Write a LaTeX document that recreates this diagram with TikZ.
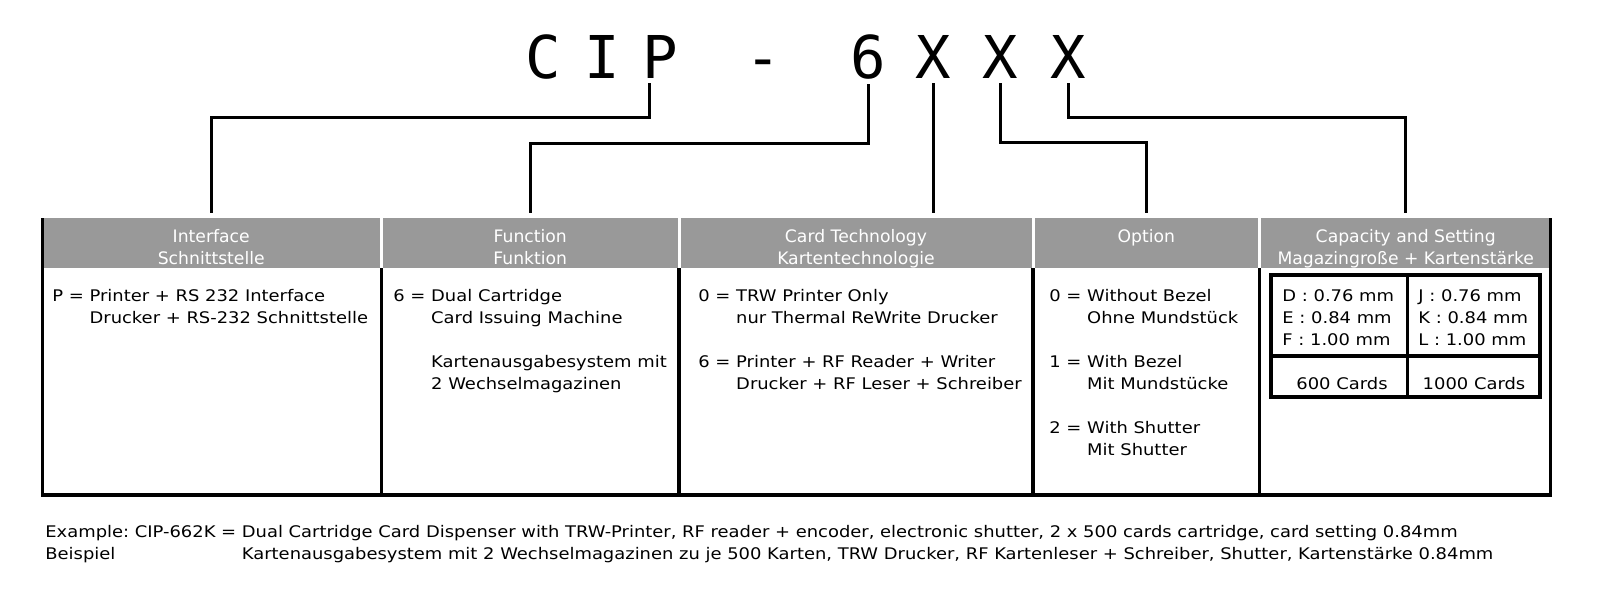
\documentclass[tikz,border=0pt]{standalone}
\usepackage{fontspec}
\setmainfont{DejaVu Sans}
\newfontfamily\bodyfont{DejaVu Sans}[FakeStretch=1.12]
\newfontfamily\titlefont{DejaVu Sans Mono}
\usetikzlibrary{calc}
\definecolor{headgray}{RGB}{153,153,153}
\frenchspacing

\begin{document}
\begin{tikzpicture}[x=0.5pt,y=-0.5pt,
        titlechar/.style={font={\titlefont\fontsize{29.5pt}{30pt}\selectfont}, inner sep=0pt, anchor=base},
        headcell/.style={fill=headgray, inner sep=0pt, minimum height=25pt},
        headtext/.style={font={\fontsize{8.6pt}{11pt}\selectfont}, text=white, inner sep=0pt, anchor=base},
        bodytext/.style={font={\bodyfont\fontsize{8pt}{11pt}\selectfont}, inner sep=0pt, anchor=base west},
        link/.style={line width=1.5pt, shorten <=2.5pt, shorten >=2.5pt},
        tableline/.style={line width=1.8pt},
        divline/.style={line width=1.6pt}]
        \useasboundingbox (0,0) rectangle (1600,600);

        \node[titlechar] (tC) at (543,78) {C};
        \node[titlechar] (tI) at (602,78) {I};
        \node[titlechar] (tP) at (660,78) {P};
        \node[titlechar] (tDash) at (763,78) {-};
        \node[titlechar] (t6) at (868,78) {6};
        \node[titlechar] (tX1) at (933,78) {X};
        \node[titlechar] (tX2) at (1000,78) {X};
        \node[titlechar] (tX3) at (1068,78) {X};

        \node[headcell, minimum width=168.75pt] (hIface) at (211.25,243) {};
        \node[headcell, minimum width=147.25pt] (hFunc) at (530.25,243) {};
        \node[headcell, minimum width=175.5pt] (hCard) at (856,243) {};
        \node[headcell, minimum width=111.75pt] (hOpt) at (1146.25,243) {};
        \node[headcell, minimum width=144.75pt] (hCap) at (1405.75,243) {};

        \node[headtext] (hIfaceA) at (211.25,242) {Interface};
        \node[headtext] (hIfaceB) at (211.25,264) {Schnittstelle};
        \node[headtext] (hFuncA) at (530.25,242) {Function};
        \node[headtext] (hFuncB) at (530.25,264) {Funktion};
        \node[headtext] (hCardA) at (856,242) {Card Technology};
        \node[headtext] (hCardB) at (856,264) {Kartentechnologie};
        \node[headtext] (hOptA) at (1146.25,242) {Option};
        \node[headtext] (hCapA) at (1405.75,242) {Capacity and Setting};
        \node[headtext] (hCapB) at (1405.75,264) {Magazingroße + Kartenstärke};

        \draw[tableline] (42.5,218) -- (42.5,495) -- (1550.5,495) -- (1550.5,218);
        \draw[divline] (381.5,268) -- (381.5,495);
        \draw[divline] (679,268) -- (679,495);
        \draw[divline] (1033,268) -- (1033,495);
        \draw[divline] (1259.5,268) -- (1259.5,495);

        \draw[link] ([xshift=4pt]tP.south west) -- ++(0,39) -| (hIface.north);
        \draw[link] (t6.south) -- ++(0,64) -| (hFunc.north);
        \draw[link] (tX1.south) -- (tX1.south |- hCard.north);
        \draw[link] (tX2.south) -- ++(0,64) -| (hOpt.north);
        \draw[link] (tX3.south) -- ++(0,39) -| (hCap.north);

        \node[bodytext] (bIface) at (52,301) {\begin{tabular}[t]{@{}l@{\ }l@{}}
                P = & Printer + RS 232 Interface\\
                    & Drucker + RS-232 Schnittstelle
            \end{tabular}};
        \node[bodytext] (bFunc) at (393,301) {\begin{tabular}[t]{@{}l@{\ }l@{}}
                6 = & Dual Cartridge\\
                    & Card Issuing Machine\\
                    & \\
                    & Kartenausgabesystem mit\\
                    & 2 Wechselmagazinen
            \end{tabular}};
        \node[bodytext] (bCard) at (698,301) {\begin{tabular}[t]{@{}l@{\ }l@{}}
                0 = & TRW Printer Only\\
                    & nur Thermal ReWrite Drucker\\
                    & \\
                6 = & Printer + RF Reader + Writer\\
                    & Drucker + RF Leser + Schreiber
            \end{tabular}};
        \node[bodytext] (bOpt) at (1049,301) {\begin{tabular}[t]{@{}l@{\ }l@{}}
                0 = & Without Bezel\\
                    & Ohne Mundstück\\
                    & \\
                1 = & With Bezel\\
                    & Mit Mundstücke\\
                    & \\
                2 = & With Shutter\\
                    & Mit Shutter
            \end{tabular}};

        % capacity grid
        \draw[divline] (1271,275) rectangle (1540,397);
        \draw[divline] (1407.5,275) -- (1407.5,397);
        \draw[divline] (1271,356) -- (1540,356);
        \node[bodytext] (capDEF) at (1282,301) {\begin{tabular}[t]{@{}l@{}}
                D : 0.76 mm\\ E : 0.84 mm\\ F : 1.00 mm
            \end{tabular}};
        \node[bodytext] (capJKL) at (1418,301) {\begin{tabular}[t]{@{}l@{}}
                J : 0.76 mm\\ K : 0.84 mm\\ L : 1.00 mm
            \end{tabular}};
        \node[bodytext, anchor=base] (cap600) at (1342,389) {600 Cards};
        \node[bodytext, anchor=base] (cap1000) at (1474,389) {1000 Cards};

        \node[bodytext] (example) at (45,537.8) {\begin{tabular}[t]{@{}l@{\ }l@{}}
                Example: CIP-662K = & Dual Cartridge Card Dispenser with TRW-Printer, RF reader + encoder, electronic shutter, 2 x 500 cards cartridge, card setting 0.84mm\\
                Beispiel & Kartenausgabesystem mit 2 Wechselmagazinen zu je 500 Karten, TRW Drucker, RF Kartenleser + Schreiber, Shutter, Kartenstärke 0.84mm
            \end{tabular}};
    \end{tikzpicture}
\end{document}
